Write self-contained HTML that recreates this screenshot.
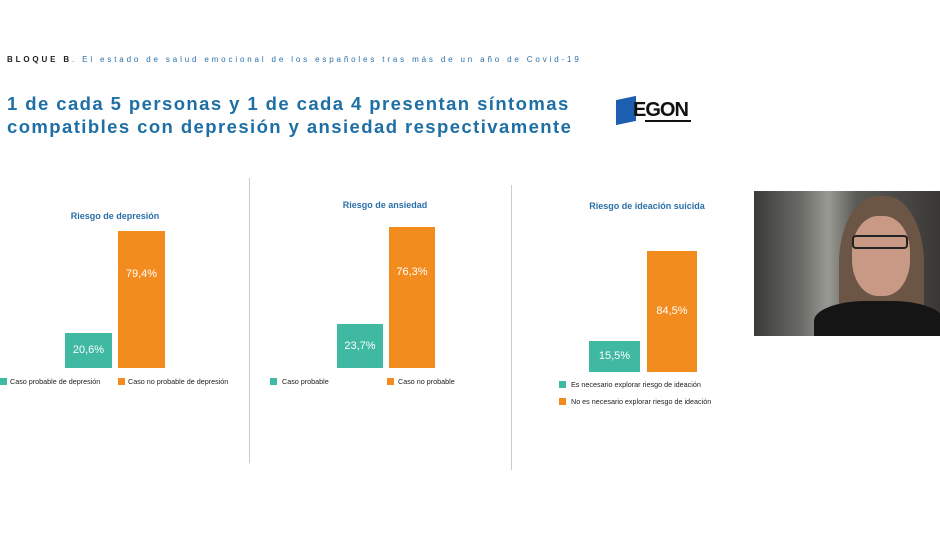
<!DOCTYPE html>
<html><head><meta charset="utf-8"><style>
body{margin:0;width:940px;height:558px;background:#fff;position:relative;overflow:hidden;font-family:"Liberation Sans",sans-serif}
.a{position:absolute;white-space:nowrap}
.t{color:#2a6fa8;font-weight:bold;font-size:9px;transform:translateX(-50%)}
.bar{position:absolute}
.g{background:#3fb9a2}.o{background:#f28c1e}
.v{color:#fff;font-size:11px;position:absolute;width:100%;text-align:center}
.lg{font-size:7.2px;color:#222}
.sq{position:absolute;width:7px;height:7px}
.div{position:absolute;width:1px;background:#ccc}
</style></head><body>
<div class="a" style="left:7px;top:55px;font-size:8px;letter-spacing:2.85px;color:#2a6fa8"><b style="color:#222">BLOQUE B</b>. El estado de salud emocional de los españoles tras más de un año de Covid-19</div>
<div class="a" style="left:7px;top:92px;font-size:18.5px;line-height:23px;font-weight:bold;color:#1e6fa5;letter-spacing:1.42px">1 de cada 5 personas y 1 de cada 4 presentan síntomas<br>compatibles con depresión y ansiedad respectivamente</div>
<div class="a" style="left:616px;top:98px;width:20px;height:25px;background:#1c5fb0;transform:skewY(-12deg)"></div>
<div class="a" style="left:633px;top:99px;font-size:20px;font-weight:bold;color:#111;letter-spacing:-1px">EGON</div>
<div class="a" style="left:645px;top:120px;width:46px;height:2px;background:#111"></div>

<div class="div" style="left:249px;top:178px;height:285px"></div>
<div class="div" style="left:511px;top:185px;height:285px"></div>

<div class="a t" style="left:115px;top:211px">Riesgo de depresión</div>
<div class="bar g" style="left:65px;top:333px;width:47px;height:35px"><div class="v" style="top:11px">20,6%</div></div>
<div class="bar o" style="left:118px;top:231px;width:47px;height:137px"><div class="v" style="top:37px">79,4%</div></div>
<div class="sq g" style="left:0;top:378px"></div><div class="a lg" style="left:10px;top:377px">Caso probable de depresión</div>
<div class="sq o" style="left:118px;top:378px"></div><div class="a lg" style="left:128px;top:377px">Caso no probable de depresión</div>

<div class="a t" style="left:385px;top:200px">Riesgo de ansiedad</div>
<div class="bar g" style="left:337px;top:324px;width:46px;height:44px"><div class="v" style="top:16px">23,7%</div></div>
<div class="bar o" style="left:389px;top:227px;width:46px;height:141px"><div class="v" style="top:39px">76,3%</div></div>
<div class="sq g" style="left:270px;top:378px"></div><div class="a lg" style="left:282px;top:377px">Caso probable</div>
<div class="sq o" style="left:387px;top:378px"></div><div class="a lg" style="left:398px;top:377px">Caso no probable</div>

<div class="a t" style="left:647px;top:201px">Riesgo de ideación suicida</div>
<div class="bar g" style="left:589px;top:341px;width:51px;height:31px"><div class="v" style="top:9px">15,5%</div></div>
<div class="bar o" style="left:647px;top:251px;width:50px;height:121px"><div class="v" style="top:54px">84,5%</div></div>
<div class="sq g" style="left:559px;top:381px"></div><div class="a lg" style="left:571px;top:380px">Es necesario explorar riesgo de ideación</div>
<div class="sq o" style="left:559px;top:398px"></div><div class="a lg" style="left:571px;top:397px">No es necesario explorar riesgo de ideación</div>

<div class="a" style="left:754px;top:191px;width:186px;height:145px;background:linear-gradient(90deg,#3a3a38 0%,#6a6a66 25%,#9a9a94 40%,#5a5a56 55%,#3a3835 100%);overflow:hidden">
<div class="a" style="left:85px;top:5px;width:85px;height:150px;border-radius:45% 45% 20% 20%;background:#6b5544"></div>
<div class="a" style="left:98px;top:25px;width:58px;height:80px;border-radius:45%;background:#c89a85"></div>
<div class="a" style="left:60px;top:110px;width:130px;height:50px;border-radius:40% 40% 0 0;background:#151515"></div>
<div class="a" style="left:98px;top:44px;width:56px;height:14px;border:2px solid #222;border-radius:4px;box-sizing:border-box"></div>
</div>
</body></html>
